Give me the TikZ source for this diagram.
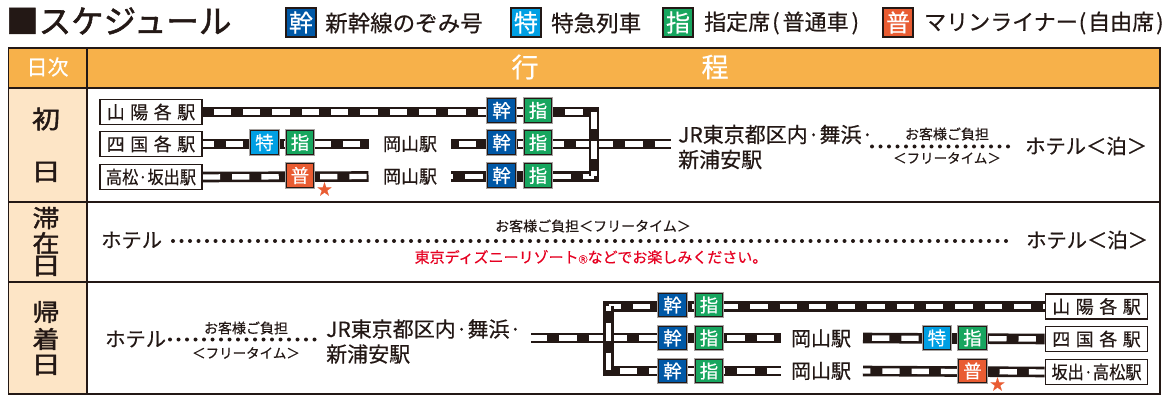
\documentclass[tikz,border=0pt]{standalone}
\usepackage{fontspec}
\usepackage{graphicx}
\setmainfont[FakeBold=0.4]{Noto Sans CJK JP}
\newfontfamily\jpmed[FakeBold=1.6]{Noto Sans CJK JP}
\usetikzlibrary{calc}
\definecolor{ink}{HTML}{231815}
\definecolor{hdr}{HTML}{F7B14A}
\definecolor{col}{HTML}{FDE5C6}
\definecolor{kan}{HTML}{0058A6}
\definecolor{tok}{HTML}{009FE3}
\definecolor{shi}{HTML}{17A65F}
\definecolor{fut}{HTML}{E95C32}
\definecolor{rd}{HTML}{E60021}
\newcommand{\jpsize}[1]{\fontsize{#1}{#1}\selectfont}
\pgfdeclarelayer{tbl}\pgfdeclarelayer{rail}
\pgfsetlayers{tbl,rail,main}
\tikzset{
  badge/.style={draw=ink,line width=1.4pt,fill=#1,text=white,minimum width=27.5pt,minimum height=23.5pt,inner sep=0pt,font=\jpsize{18.5},preaction={draw=ink!40,line width=2.6pt}},
  lbadge/.style={draw=ink,line width=1.4pt,fill=#1,text=white,minimum width=30pt,minimum height=29pt,inner sep=0pt,font=\jpsize{24}},
  stbox/.style={draw=ink,line width=1.7pt,fill=white,inner sep=0pt,minimum height=25pt,minimum width=102pt,font=\jpsize{18},text=ink},
  lbl/.style={inner sep=0pt,text=ink,font=\jpsize{#1}},
  railline/.style={preaction={draw=ink,line width=10.6pt},draw=white,line width=5.4pt,dash pattern=on 17.3pt off 12pt,dash phase=#1},
  railframe/.style={draw=ink,line width=10.6pt,line join=miter},
  dotline/.style={draw=ink,line width=4pt,line cap=round,dash pattern=on 0pt off 8.5pt},
  starmk/.style={inner sep=0pt,text=fut,font=\jpsize{15}},
  multi/.style={inner sep=0pt,text=ink,font=\fontsize{21}{25}\selectfont,align=left,anchor=west},
  daylbl/.style={inner sep=0pt,text=ink,font=\jpmed\jpsize{#1}}
}
\newcommand{\gapx}{\hspace{5.5pt}}
\newcommand{\flatjp}[1]{\scalebox{1}[0.88]{#1}}
\newcommand{\flatday}[1]{\scalebox{1}[0.8]{#1}}
\newcommand{\narrowjp}[1]{\scalebox{0.9}[1]{#1}}
\begin{document}
\begin{tikzpicture}[x=1pt,y=-1pt]
\useasboundingbox (0,0) rectangle (1170,403);
% table
\begin{pgfonlayer}{tbl}
\fill[white] (0,0) rectangle (1170,403);
\fill[hdr] (8.5,48) rectangle (1160,88);
\fill[col] (8.5,88) rectangle (87,394);
\draw[ink,line width=1.8pt] (8.5,48) rectangle (1160,394);
\draw[ink,line width=1.8pt] (87,48) -- (87,394);
\draw[ink,line width=1.8pt] (8.5,88) -- (1160,88);
\draw[ink,line width=1.8pt] (8.5,202) -- (1160,202);
\draw[ink,line width=1.8pt] (8.5,282) -- (1160,282);
\end{pgfonlayer}
% title and legend
\node[inner sep=0pt,text=ink,anchor=west,font=\jpmed\jpsize{32.5}] (title) at (6,21) {■スケジュール};
\node[lbadge=kan] (lk) at (301,22.5) {幹};
\node[lbl=22.5,anchor=west] (lkt) at (325,23) {新幹線のぞみ号};
\node[lbadge=tok] (lt) at (526,22.5) {特};
\node[lbl=22.5,anchor=west] (ltt) at (551,23) {特急列車};
\node[lbadge=shi] (ls) at (678,22.5) {指};
\node[lbl=22,anchor=west] (lst) at (704,23) {指定席\hspace{2pt}(\hspace{3pt}普通車\hspace{3pt})};
\node[lbadge=fut] (lf) at (898,22.5) {普};
\node[lbl=22,anchor=west] (lft) at (924,23) {マリンライナー\hspace{1pt}(\hspace{2pt}自由席\hspace{2pt})};
% headers
\node[inner sep=0pt,text=white,font=\jpsize{21}] (hd1) at (47.5,67) {日次};
\node[inner sep=0pt,text=white,font=\jpsize{27}] (hd2) at (525,67) {行};
\node[inner sep=0pt,text=white,font=\jpsize{27}] (hd3) at (715,67) {程};
\node[daylbl=28] (d1a) at (46,119) {\flatjp{初}};
\node[daylbl=30] (d1b) at (46,172) {\flatday{日}};
\node[daylbl=27] (d2a) at (46,218) {\flatjp{滞}};
\node[daylbl=27] (d2b) at (46,243) {\flatjp{在}};
\node[daylbl=30] (d2c) at (46,266) {\flatday{日}};
\node[daylbl=27] (d3a) at (46,312) {\flatjp{帰}};
\node[daylbl=27] (d3b) at (46,339) {\flatjp{着}};
\node[daylbl=30] (d3c) at (46,365) {\flatday{日}};
% day 1 nodes
\node[stbox] (a1) at (151,112) {山\gapx 陽\gapx 各\gapx 駅};
\node[stbox] (a2) at (151,144) {四\gapx 国\gapx 各\gapx 駅};
\node[stbox] (a3) at (151,177) {\narrowjp{高松·坂出駅}};
\node[badge=kan] (ak1) at (501.5,110.5) {幹};
\node[badge=shi] (as1) at (538,110.5) {指};
\node[badge=tok] (at2) at (264.5,142.5) {特};
\node[badge=shi] (as2) at (300,142.5) {指};
\node[badge=kan] (ak2) at (501.5,142.5) {幹};
\node[badge=shi] (ap2) at (538,142.5) {指};
\node[badge=fut] (af3) at (300,175.5) {普};
\node[badge=kan] (ak3) at (501.5,175.5) {幹};
\node[badge=shi] (ap3) at (538,175.5) {指};
\node[starmk] (as) at (324.5,189) {★};
\node[lbl=18] (ao2) at (410,144) {岡山駅};
\node[lbl=18] (ao3) at (410,176.5) {岡山駅};
\node[multi] (ajr) at (678,147) {JR東京都区内·舞浜·\\新浦安駅};
\node[lbl=14] (aop) at (947,134) {お客様ご負担};
\node[lbl=13.5] (aft) at (947,158) {＜フリータイム＞};
\node[lbl=20.3,anchor=west] (aho) at (1025,146) {ホテル＜泊＞};
\coordinate (a2e) at (368.5,144);
\coordinate (a2s) at (451,144);
\coordinate (a3e) at (368.5,176.5);
\coordinate (a3s) at (451,176.5);
\coordinate (aj1) at (594,112);
\coordinate (ajm) at (594,144);
\coordinate (aj3) at (594,176.5);
\coordinate (aex) at (671,144);
\coordinate (adot1) at (872,146.5);
\coordinate (adot2) at (1016,146.5);
% day 2 nodes
\node[lbl=20.3,anchor=west] (bh1) at (101,240) {ホテル};
\node[lbl=20.3,anchor=west] (bh2) at (1026,240) {ホテル＜泊＞};
\node[lbl=14] (bop) at (593,226) {お客様ご負担＜フリータイム＞};
\node[inner sep=0pt,text=rd,font=\jpsize{15}] (bred) at (591,257) {東京ディズニーリゾート{\jpsize{9}Ⓡ}などでお楽しみください。};
\coordinate (bdot1) at (173,241);
\coordinate (bdot2) at (1008,241);
% day 3 nodes
\node[lbl=20.3,anchor=west] (ch) at (105,339) {ホテル};
\node[lbl=14] (cop) at (246,328) {お客様ご負担};
\node[lbl=13.5] (cft) at (246,353) {＜フリータイム＞};
\node[multi] (cjr) at (326,341.5) {JR東京都区内·舞浜·\\新浦安駅};
\coordinate (cdot1) at (170,339.5);
\coordinate (cdot2) at (316,339.5);
\node[stbox] (c1) at (1096.5,306.5) {山\gapx 陽\gapx 各\gapx 駅};
\node[stbox] (c2) at (1096.5,339) {四\gapx 国\gapx 各\gapx 駅};
\node[stbox] (c3) at (1096.5,372) {\narrowjp{坂出·高松駅}};
\node[badge=kan] (ck1) at (672.5,305) {幹};
\node[badge=shi] (cs1) at (709,305) {指};
\node[badge=kan] (ck2) at (672.5,338) {幹};
\node[badge=shi] (cs2) at (709,338) {指};
\node[badge=kan] (ck3) at (672.5,371) {幹};
\node[badge=shi] (cs3) at (709,371) {指};
\node[badge=tok] (ct2) at (937,338) {特};
\node[badge=shi] (cp2) at (972.5,338) {指};
\node[badge=fut] (cf3) at (972.5,371) {普};
\node[starmk] (cst) at (997.5,384) {★};
\node[lbl=20] (co2) at (821,338.5) {岡山駅};
\node[lbl=20] (co3) at (821,371) {岡山駅};
\coordinate (cst0) at (531,338);
\coordinate (cj1) at (608.5,306.5);
\coordinate (cjm) at (608.5,338);
\coordinate (cj3) at (608.5,371);
\coordinate (c2e) at (780.5,338);
\coordinate (c2s) at (863,338);
\coordinate (c3e) at (780.5,371);
\coordinate (c3s) at (863,371);
% rails
\begin{pgfonlayer}{rail}
\draw[railframe] (a1.east) -- (a1.east -| aj1) -- (aj3) -- (a3s);
\draw[railframe] (c1.west) -- (c1.west -| cj1) -- (cj3) -- (c3e);
\draw[railline=18.3] (a1.east) -- (a1.east -| aj1);
\draw[railline=6.3] (a2.east) -- (a2e);
\draw[railline=0] (a3.east) -- (a3e);
\draw[railline=21.3] (a2s) -- (ajm);
\draw[railline=15] (a3s) -- (aj3);
\draw[railline=27.3] (ajm) -- (aex);
\draw[railline=0] (a1.east -| aj1) -- (aj3);
\draw[railline=1] (cst0) -- (cjm);
\draw[railline=4.8] (c1.west -| cj1) -- (c1.west);
\draw[railline=27.8] (cjm) -- (c2e);
\draw[railline=20.3] (c2s) -- (c2.west);
\draw[railline=17.8] (cj3) -- (c3e);
\draw[railline=10] (c3s) -- (c3.west);
\draw[railline=12.5] (c1.west -| cj1) -- (cj3);
\end{pgfonlayer}
% dotted walks
\draw[dotline] (adot1) -- (adot2);
\draw[dotline] (bdot1) -- (bdot2);
\draw[dotline] (cdot1) -- (cdot2);
\end{tikzpicture}
\end{document}
